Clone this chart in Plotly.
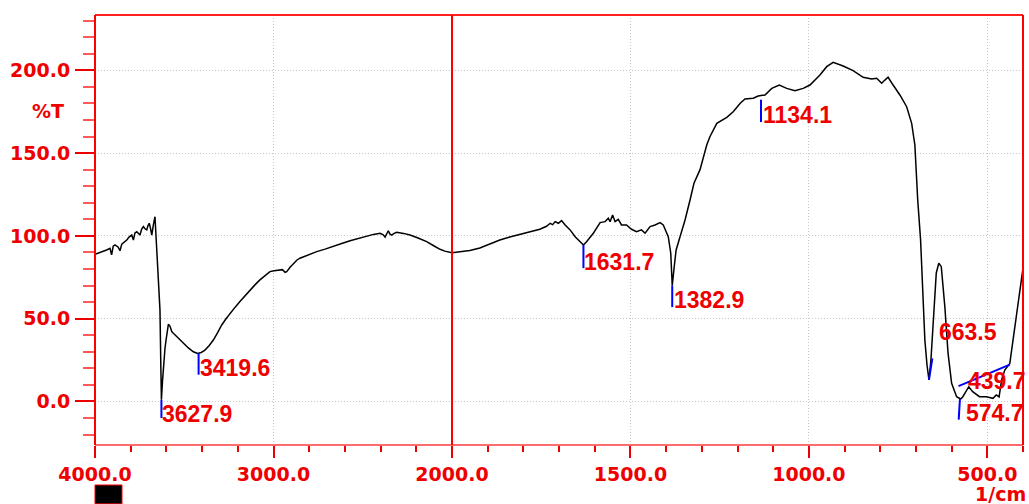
import numpy as np
import plotly.graph_objects as go

# FTIR spectrum: wavenumber (1/cm) and transmittance (%T)
wavenumber = [
    4000, 3960, 3935, 3916, 3907, 3898, 3888, 3870, 3860, 3850, 3836, 3822,
    3808, 3794, 3785, 3776, 3766, 3757, 3748, 3739, 3729, 3720, 3710, 3703,
    3696, 3689, 3682, 3673, 3664, 3658, 3645, 3636, 3631, 3627.9, 3622, 3615,
    3608, 3602, 3595, 3589, 3580, 3570, 3561, 3533, 3505, 3477, 3449, 3425,
    3405, 3384, 3360, 3337, 3313, 3290, 3267, 3244, 3216, 3188, 3160, 3132,
    3104, 3076, 3048, 3020, 2997, 2973, 2950, 2935, 2926, 2907, 2888, 2870,
    2852, 2805, 2758, 2711, 2665, 2618, 2571, 2525, 2478, 2440, 2403, 2385,
    2375, 2365, 2357, 2348, 2338, 2324, 2310, 2272, 2235, 2190, 2142, 2105,
    2067, 2040, 2011, 2000,
    1950, 1922, 1894, 1866, 1838, 1810, 1782, 1754, 1735, 1725, 1718, 1711,
    1702, 1693, 1683, 1669, 1655, 1641, 1631.7, 1623, 1604, 1585, 1571, 1562,
    1557, 1550, 1543, 1534, 1525, 1511, 1497, 1483, 1469, 1459, 1445, 1431,
    1417, 1408, 1394, 1387, 1382.9, 1378, 1372, 1361, 1347, 1333, 1322, 1305,
    1286, 1277, 1258, 1230, 1212, 1193, 1179, 1156, 1142, 1123, 1104, 1083,
    1062, 1039, 1016, 997, 969, 950, 932, 904, 876, 848, 824, 810,
    796, 787, 778, 764, 745, 726, 712, 703, 695, 687, 684, 675,
    669, 663.5, 658, 652, 643, 636, 629, 619, 610, 600, 586, 574.7,
    569, 563, 552, 541, 522, 503, 484, 475, 467, 460, 451, 437,
    428, 414, 402, 400,
]
transmittance = [
    88.9, 90.3, 91.5, 92.5, 88.5, 93.8, 94.5, 93.2, 91.0, 95.0, 96.2, 97.5,
    99.4, 100.5, 97.5, 101.8, 102.5, 101.2, 100.5, 104.0, 105.6, 104.3, 103.6, 106.2,
    107.6, 104.5, 100.5, 106.6, 111.6, 99.5, 75.4, 55.3, 20.0, 1.0, 12.0, 24.0,
    32.0, 37.0, 44.0, 46.6, 45.5, 42.2, 41.2, 38.2, 35.0, 32.3, 30.0, 29.0,
    29.6, 31.0, 33.8, 37.1, 41.6, 46.2, 49.8, 53.3, 56.8, 60.3, 63.9, 67.3,
    70.4, 73.4, 76.0, 78.4, 79.0, 79.4, 79.6, 78.0, 78.4, 81.0, 83.5, 85.3,
    86.5, 88.6, 90.5, 92.0, 93.5, 95.4, 97.1, 98.6, 100.0, 100.9, 101.6, 100.6,
    99.2, 101.5, 103.1, 101.2, 100.5, 101.5, 102.2, 101.5, 100.5, 98.7, 96.5, 94.2,
    91.9, 90.8, 89.9, 89.8,
    91.2, 92.7, 95.0, 97.5, 99.3, 101.0, 102.6, 104.0, 105.8, 107.6, 106.8, 108.6,
    107.6, 109.2, 106.6, 103.6, 99.5, 96.5, 94.5, 96.5, 101.6, 108.0, 108.6, 110.6,
    108.6, 112.6, 108.6, 110.0, 106.6, 106.6, 104.0, 102.5, 103.6, 101.6, 105.6, 106.6,
    108.0, 106.6, 99.5, 89.5, 70.0, 80.0, 91.5, 99.5, 109.6, 121.7, 131.8, 140.0,
    155.0, 160.0, 168.0, 171.6, 175.0, 180.0, 182.7, 183.1, 184.5, 185.1, 189.1, 191.1,
    189.1, 187.7, 189.1, 191.1, 197.2, 202.2, 204.8, 202.6, 199.8, 195.8, 194.7, 195.2,
    192.2, 194.1, 195.8, 191.1, 185.1, 178.0, 168.0, 154.9, 121.7, 97.6, 82.4, 37.1,
    22.0, 13.0, 25.0, 47.4, 77.6, 83.5, 81.4, 57.2, 29.0, 11.0, 2.9, 1.5,
    2.7, 4.9, 8.9, 5.9, 2.9, 2.9, 1.9, 3.9, 2.7, 13.0, 19.0, 23.0,
    37.0, 61.3, 79.4, 80.5,
]

# Peak positions picked on the spectrum
peaks = [3627.9, 3419.6, 1631.7, 1382.9, 1134.1, 663.5, 574.7, 439.7]

y_ticks = [0, 50, 100, 150, 200]
x_ticks_high = [4000, 3000]
x_ticks_low = [2000, 1500, 1000, 500]

# ---- styling -------------------------------------------------------------
RED = "#ee0000"
BLUE = "#0000ff"
GRID = "#c8c8c8"
GRID_DASH = "1px,2px"
tick_font = dict(family="DejaVu Sans", size=19, color=RED, weight="bold")
label_font = dict(family="Liberation Sans", size=23, color=RED, weight="bold")

W, H = 1029, 504
ML, MR, MT, MB = 95, 6, 15, 59
plot_w = W - ML - MR
split = 357 / plot_w  # 4000-2000 drawn at half the scale of 2000-400

# per-peak marker segment (dx1, dy1, dx2, dy2) relative to the peak point,
# and label placement (xshift px, y offset in %T)
marker_geom = {
    3627.9: (0, 0, 0, -11),
    3419.6: (0, 0, 0, -13),
    1631.7: (0, 0, 0, -14),
    1382.9: (0, 0, 0, -13),
    1134.1: (0, -2.5, 0, -16),
    663.5: (0, 0, -9.5, 13),
    574.7: (2, 0, 5.5, -12.5),
    439.7: (-2.7, 0, 141, -13),
}
label_geom = {
    3627.9: (0, -8.5),
    3419.6: (0, -8.8),
    1631.7: (0, -10.1),
    1382.9: (1, -9.0),
    1134.1: (1, -11.7),
    663.5: (9, 29.1),
    574.7: (4, -8.6),
    439.7: (-42, -9.8),
}

wn = np.array(wavenumber, dtype=float)
tr = np.array(transmittance, dtype=float)
order = np.argsort(wn)


def t_at(w):
    return float(np.interp(w, wn[order], tr[order]))


def xaxis_for(w):
    return "x" if w >= 2000 else "x2"


fig = go.Figure()

hi = wn >= 2000
lo = wn <= 2000
line_style = dict(color="black", width=1.5)
fig.add_trace(go.Scatter(x=wn[hi], y=tr[hi], mode="lines", line=line_style,
                         xaxis="x", yaxis="y", hoverinfo="skip"))
fig.add_trace(go.Scatter(x=wn[lo], y=tr[lo], mode="lines", line=line_style,
                         xaxis="x2", yaxis="y", hoverinfo="skip"))

annotations = []
for p in peaks:
    yp = t_at(p)
    dx1, dy1, dx2, dy2 = marker_geom[p]
    ax = xaxis_for(p)
    fig.add_trace(go.Scatter(x=[p + dx1, p + dx2], y=[yp + dy1, yp + dy2],
                             mode="lines", line=dict(color=BLUE, width=2),
                             xaxis=ax, yaxis="y", hoverinfo="skip"))
    xs, dy = label_geom[p]
    annotations.append(dict(
        x=p, y=yp + dy, xref=ax, yref="y", text=f"{p:.1f}", showarrow=False,
        xanchor="left", yanchor="middle", xshift=xs, font=label_font,
        borderpad=0,
    ))

# axis title texts
annotations.append(dict(x=-47.5 / plot_w, y=0.7767, xref="paper", yref="paper",
                        text="%T", showarrow=False, font=tick_font,
                        xanchor="center", yanchor="middle"))
annotations.append(dict(x=905 / plot_w, y=-0.113, xref="paper", yref="paper",
                        text="1/cm", showarrow=False, font=tick_font,
                        xanchor="center", yanchor="middle", borderpad=0))

common_x = dict(
    anchor="y", ticks="outside", ticklen=12, tickwidth=2, tickcolor=RED,
    tickfont=tick_font, tickformat=".1f", showgrid=True, gridcolor=GRID,
    griddash=GRID_DASH, gridwidth=1, zeroline=False, showline=False,
)

fig.update_layout(
    width=W, height=H,
    margin=dict(l=ML, r=MR, t=MT, b=MB, pad=0),
    paper_bgcolor="white", plot_bgcolor="white",
    showlegend=False,
    xaxis=dict(domain=[0, split], range=[4000, 2000], tickmode="array",
               tickvals=x_ticks_high,
               minor=dict(dtick=200, tick0=0, ticks="outside", ticklen=6,
                          tickwidth=2, tickcolor=RED, showgrid=False),
               **common_x),
    xaxis2=dict(domain=[split, 1], range=[2000, 400], tickmode="array",
                tickvals=x_ticks_low,
                minor=dict(dtick=100, tick0=0, ticks="outside", ticklen=6,
                           tickwidth=2, tickcolor=RED, showgrid=False),
                **common_x),
    yaxis=dict(range=[-26.3, 233.4], anchor="x", tickmode="array",
               tickvals=y_ticks, tickformat=".1f", ticks="outside",
               ticklen=19, tickwidth=2, tickcolor=RED, tickfont=tick_font,
               ticklabelstandoff=1,
               showgrid=True, gridcolor=GRID, griddash=GRID_DASH, gridwidth=1,
               zeroline=False, showline=False,
               minor=dict(dtick=10, tick0=0, ticks="outside", ticklen=11,
                          tickwidth=2, tickcolor="#ff5a5a", showgrid=False)),
    annotations=annotations,
    shapes=[
        # frame
        dict(type="line", xref="paper", yref="paper", x0=0, x1=1, y0=0, y1=0,
             line=dict(color="#ff6a6a", width=2)),
        dict(type="line", xref="paper", yref="paper", x0=0, x1=1, y0=1, y1=1,
             line=dict(color="#ff2020", width=2)),
        dict(type="line", xref="paper", yref="paper", x0=0, x1=0, y0=0, y1=1,
             line=dict(color="#ff0000", width=2)),
        dict(type="line", xref="paper", yref="paper", x0=1, x1=1, y0=0, y1=1,
             line=dict(color="#ff0000", width=2)),
        # scale break at 2000
        dict(type="line", xref="paper", yref="paper", x0=split, x1=split,
             y0=0, y1=1, line=dict(color="#ff0000", width=2)),
        # legend swatch
        dict(type="rect", xref="paper", yref="paper", x0=0, x1=27 / plot_w,
             y0=-0.137, y1=-0.093, fillcolor="black",
             line=dict(color="#ff0000", width=1)),
    ],
)

fig.write_html("out.html")
